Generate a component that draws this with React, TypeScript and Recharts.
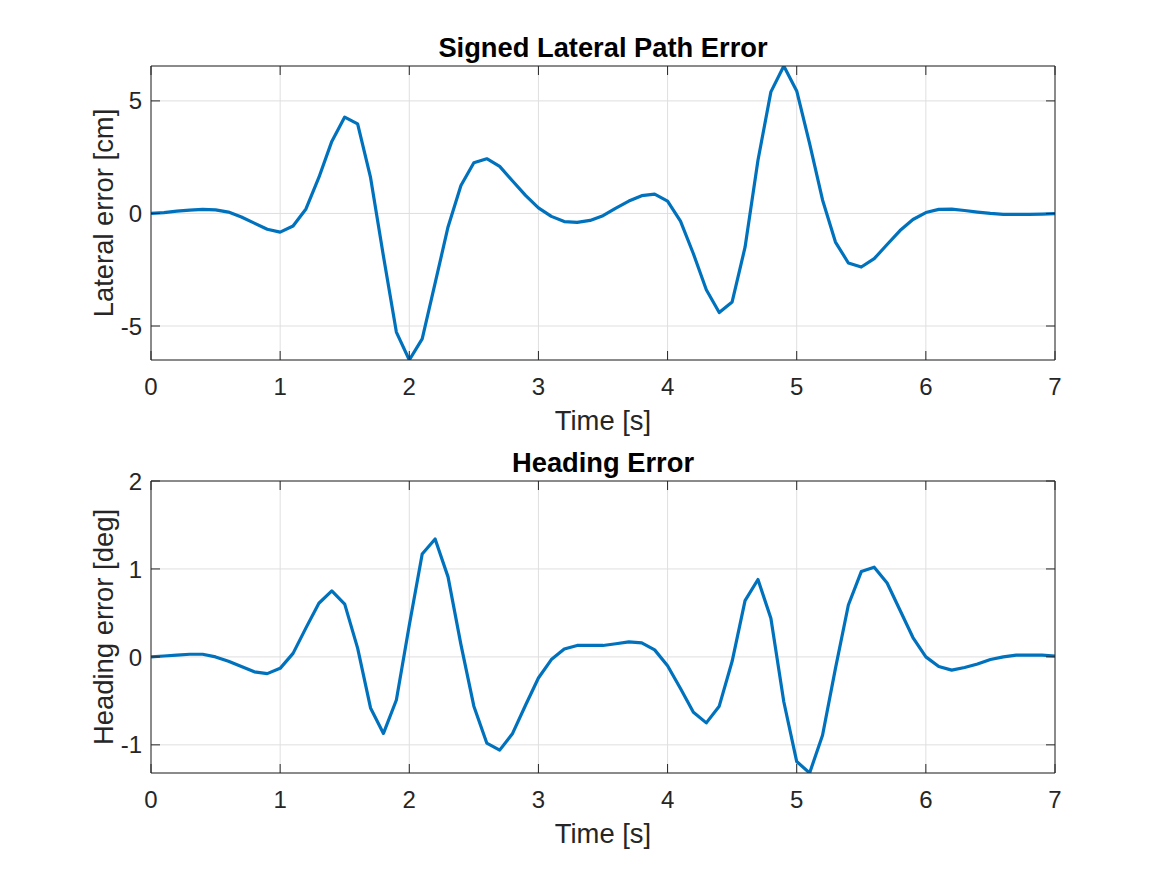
import React from 'react';
import { LineChart, Line, XAxis, YAxis, CartesianGrid } from 'recharts';

const TIME = [
  0, 0.1, 0.2, 0.3, 0.4, 0.5, 0.6, 0.7, 0.8, 0.9,
  1, 1.1, 1.2, 1.3, 1.4, 1.5, 1.6, 1.7, 1.8, 1.9,
  2, 2.1, 2.2, 2.3, 2.4, 2.5, 2.6, 2.7, 2.8, 2.9,
  3, 3.1, 3.2, 3.3, 3.4, 3.5, 3.6, 3.7, 3.8, 3.9,
  4, 4.1, 4.2, 4.3, 4.4, 4.5, 4.6, 4.7, 4.8, 4.9,
  5, 5.1, 5.2, 5.3, 5.4, 5.5, 5.6, 5.7, 5.8, 5.9,
  6, 6.1, 6.2, 6.3, 6.4, 6.5, 6.6, 6.7, 6.8, 6.9,
  7,
];

const LATERAL_ERROR_CM = [
  0, 0.04, 0.1, 0.15, 0.18, 0.16, 0.06, -0.16, -0.43, -0.7,
  -0.83, -0.56, 0.2, 1.6, 3.2, 4.28, 3.98, 1.6, -1.9, -5.27,
  -6.51, -5.57, -3.1, -0.6, 1.24, 2.25, 2.43, 2.09, 1.44, 0.8,
  0.25, -0.13, -0.36, -0.4, -0.31, -0.1, 0.24, 0.55, 0.79, 0.86,
  0.55, -0.34, -1.79, -3.39, -4.4, -3.93, -1.5, 2.36, 5.4, 6.55,
  5.44, 3.1, 0.6, -1.27, -2.2, -2.38, -2.01, -1.38, -0.76, -0.27,
  0.04, 0.18, 0.19, 0.13, 0.06, 0, -0.04, -0.04, -0.04, -0.03,
  -0.01,
];

const HEADING_ERROR_DEG = [
  0, 0.01, 0.02, 0.03, 0.03, 0.0, -0.05, -0.11, -0.17, -0.19,
  -0.13, 0.04, 0.33, 0.61, 0.75, 0.6, 0.1, -0.58, -0.87, -0.49,
  0.36, 1.17, 1.34, 0.91, 0.14, -0.56, -0.98, -1.06, -0.87, -0.55,
  -0.24, -0.03, 0.09, 0.13, 0.13, 0.13, 0.15, 0.17, 0.16, 0.08,
  -0.1, -0.36, -0.63, -0.75, -0.56, -0.05, 0.64, 0.88, 0.44, -0.51,
  -1.19, -1.32, -0.89, -0.13, 0.59, 0.97, 1.02, 0.84, 0.53, 0.22,
  0.0, -0.11, -0.15, -0.12, -0.08, -0.03, 0.0, 0.02, 0.02, 0.02,
  0.01,
];

const X_TICKS = [0, 1, 2, 3, 4, 5, 6, 7];
const LATERAL_TICKS = [-5, 0, 5];
const HEADING_TICKS = [-1, 0, 1, 2];

const TITLE_LATERAL = 'Signed Lateral Path Error';
const TITLE_HEADING = 'Heading Error';
const YLABEL_LATERAL = 'Lateral error [cm]';
const YLABEL_HEADING = 'Heading error [deg]';
const XLABEL = 'Time [s]';

const FONT = '"Liberation Sans", Arial, Helvetica, sans-serif';
const AXIS_COLOR = '#262626';
const GRID_COLOR = '#dfdfdf';
const LINE_COLOR = '#0072BD';
const TICK_FS = 24;
const LABEL_FS = 27.4;
const TITLE_FS = 27.3;
const TICK_LEN = 9;

const lateralData = TIME.map((t, i) => ({ t, v: LATERAL_ERROR_CM[i] }));
const headingData = TIME.map((t, i) => ({ t, v: HEADING_ERROR_DEG[i] }));

const LeftTick = (props: any) => {
  const { x, y, payload } = props;
  return (
    <g>
      <line x1={x} x2={x + TICK_LEN} y1={y} y2={y} stroke={AXIS_COLOR} strokeWidth={1} />
      <text x={x - 9} y={y + 8.6} textAnchor="end" fontFamily={FONT} fontSize={TICK_FS} fill={AXIS_COLOR}>
        {String(payload.value)}
      </text>
    </g>
  );
};

const RightTick = (props: any) => {
  const { x, y } = props;
  return <line x1={x} x2={x - TICK_LEN} y1={y} y2={y} stroke={AXIS_COLOR} strokeWidth={1} />;
};

const BottomTick = (props: any) => {
  const { x, y, payload } = props;
  return (
    <g>
      <line x1={x} x2={x} y1={y} y2={y - TICK_LEN} stroke={AXIS_COLOR} strokeWidth={1} />
      <text x={x} y={y + 35} textAnchor="middle" fontFamily={FONT} fontSize={TICK_FS} fill={AXIS_COLOR}>
        {String(payload.value)}
      </text>
    </g>
  );
};

const TopTick = (props: any) => {
  const { x, y } = props;
  return <line x1={x} x2={x} y1={y} y2={y + TICK_LEN} stroke={AXIS_COLOR} strokeWidth={1} />;
};

type PanelProps = {
  data: { t: number; v: number }[];
  domain: [number, number];
  yTicks: number[];
  top: number;
  height: number;
  plotTop: number;
  plotBottom: number;
};

const LEFT_W = 60;
const BOTTOM_H = 50;
const PLOT_LEFT = 151;
const PLOT_RIGHT = 1055;

const Panel = ({ data, domain, yTicks, top, height, plotTop, plotBottom }: PanelProps) => (
  <div style={{ position: 'absolute', left: 0, top, width: 1167, height }}>
    <LineChart
      width={1167}
      height={height}
      data={data}
      margin={{
        top: plotTop - 1,
        bottom: height - plotBottom - BOTTOM_H,
        left: PLOT_LEFT - LEFT_W,
        right: 1167 - PLOT_RIGHT - 1,
      }}
    >
      <CartesianGrid stroke={GRID_COLOR} strokeWidth={1} />
      <XAxis
        dataKey="t"
        type="number"
        domain={[0, 7]}
        ticks={X_TICKS}
        interval={0}
        allowDataOverflow
        height={BOTTOM_H}
        tickSize={0}
        tickMargin={0}
        tickLine={false}
        axisLine={{ stroke: AXIS_COLOR, strokeWidth: 1 }}
        tick={<BottomTick />}
      />
      <XAxis
        xAxisId="top"
        orientation="top"
        dataKey="t"
        type="number"
        domain={[0, 7]}
        ticks={X_TICKS}
        interval={0}
        allowDataOverflow
        height={1}
        tickSize={0}
        tickMargin={0}
        tickLine={false}
        axisLine={{ stroke: AXIS_COLOR, strokeWidth: 1 }}
        tick={<TopTick />}
      />
      <YAxis
        type="number"
        domain={domain}
        ticks={yTicks}
        interval={0}
        allowDataOverflow
        width={LEFT_W}
        tickSize={0}
        tickMargin={0}
        tickLine={false}
        axisLine={{ stroke: AXIS_COLOR, strokeWidth: 1 }}
        tick={<LeftTick />}
      />
      <YAxis
        yAxisId="right"
        orientation="right"
        type="number"
        domain={domain}
        ticks={yTicks}
        interval={0}
        allowDataOverflow
        width={1}
        tickSize={0}
        tickMargin={0}
        tickLine={false}
        axisLine={{ stroke: AXIS_COLOR, strokeWidth: 1 }}
        tick={<RightTick />}
      />
      <Line
        type="linear"
        dataKey="v"
        stroke={LINE_COLOR}
        strokeWidth={3.2}
        dot={false}
        activeDot={false}
        isAnimationActive={false}
        strokeLinejoin="round"
      />
    </LineChart>
  </div>
);

export default function App() {
  const latDomain: [number, number] = [Math.min(...LATERAL_ERROR_CM), Math.max(...LATERAL_ERROR_CM)];
  const headDomain: [number, number] = [Math.min(...HEADING_ERROR_DEG), 2];
  return (
    <div style={{ position: 'absolute', left: 0, top: 0, width: 1167, height: 875, background: '#ffffff', overflow: 'hidden' }}>
      <Panel
        data={lateralData}
        domain={latDomain}
        yTicks={LATERAL_TICKS}
        top={0}
        height={437}
        plotTop={66}
        plotBottom={360}
      />
      <Panel
        data={headingData}
        domain={headDomain}
        yTicks={HEADING_TICKS}
        top={437}
        height={438}
        plotTop={44}
        plotBottom={336}
      />
      <svg
        width={1167}
        height={875}
        style={{ position: 'absolute', left: 0, top: 0, pointerEvents: 'none' }}
      >
        <text x={603} y={57} textAnchor="middle" fontFamily={FONT} fontSize={TITLE_FS} fontWeight="bold" fill="#000000">
          {TITLE_LATERAL}
        </text>
        <text x={603} y={430} textAnchor="middle" fontFamily={FONT} fontSize={LABEL_FS} fill={AXIS_COLOR}>
          {XLABEL}
        </text>
        <text
          x={113}
          y={213}
          textAnchor="middle"
          fontFamily={FONT}
          fontSize={LABEL_FS}
          fill={AXIS_COLOR}
          transform="rotate(-90 113 213)"
        >
          {YLABEL_LATERAL}
        </text>
        <text x={603} y={472} textAnchor="middle" fontFamily={FONT} fontSize={TITLE_FS} fontWeight="bold" fill="#000000">
          {TITLE_HEADING}
        </text>
        <text x={603} y={843} textAnchor="middle" fontFamily={FONT} fontSize={LABEL_FS} fill={AXIS_COLOR}>
          {XLABEL}
        </text>
        <text
          x={113}
          y={627}
          textAnchor="middle"
          fontFamily={FONT}
          fontSize={LABEL_FS}
          fill={AXIS_COLOR}
          transform="rotate(-90 113 627)"
        >
          {YLABEL_HEADING}
        </text>
      </svg>
    </div>
  );
}
